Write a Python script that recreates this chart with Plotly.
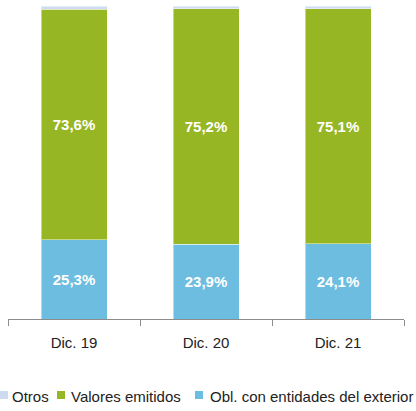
import plotly.graph_objects as go

categories = ["Dic. 19", "Dic. 20", "Dic. 21"]
obl_exterior = [25.3, 23.9, 24.1]
valores_emitidos = [73.6, 75.2, 75.1]
otros = [1.1, 0.9, 0.8]

series_names = ["Obl. con entidades del exterior", "Valores emitidos", "Otros"]
colors = ["#6CBDE0", "#97B624", "#CCDBEF"]

FONT = "Liberation Sans, Arial"

def fmt(v):
    return f"{v:.1f}%".replace(".", ",")

fig = go.Figure()
for name, vals, col, show in zip(series_names, [obl_exterior, valores_emitidos, otros], colors, [True, True, False]):
    fig.add_trace(go.Bar(
        x=categories, y=vals, name=name,
        marker=dict(color=col, line=dict(color="rgba(255,255,255,0.45)", width=1)),
        text=[fmt(v) for v in vals] if show else None,
        textposition="inside" if show else "none",
        insidetextanchor="middle",
        textfont=dict(family=FONT, size=15, color="white", weight="bold"),
        textangle=0,
        width=0.5,
        showlegend=False,
        hoverinfo="skip",
    ))

# manual legend (pixel positions converted to paper coords)
W, H, ML, MR, MT, MB = 416, 411, 8, 12, 6, 92
pw, ph = W - ML - MR, H - MT - MB
def px(p):
    return (p - ML) / pw
def py(p):
    return (H - MB - p) / ph

legend_items = list(zip(series_names, colors))[::-1]
sq_x = [0, 57, 195]
txt_x = [10, 69, 208]
for (name, col), sx, tx in zip(legend_items, sq_x, txt_x):
    fig.add_shape(type="rect", xref="paper", yref="paper",
                  x0=px(sx), x1=px(sx + 8), y0=py(399), y1=py(391),
                  fillcolor=col, line=dict(width=0))
    fig.add_annotation(text=name, xref="paper", yref="paper",
                       x=px(tx), y=py(396), xanchor="left", yanchor="middle",
                       showarrow=False,
                       font=dict(family=FONT, size=15, color="#222222"))

fig.update_layout(
    barmode="stack",
    width=W, height=H,
    margin=dict(l=ML, r=MR, t=MT, b=MB),
    plot_bgcolor="white", paper_bgcolor="white",
    bargap=0.5,
    xaxis=dict(
        showline=True, linecolor="#8C8C8C", linewidth=1,
        ticks="outside", tickson="boundaries", ticklen=6, tickcolor="#8C8C8C",
        ticklabelstandoff=10,
        tickfont=dict(family=FONT, size=15, color="#222222"),
        showgrid=False,
    ),
    yaxis=dict(range=[0, 100], visible=False),
)

fig.write_html("out.html", config={"displayModeBar": False},
               post_script="document.body.style.margin='0';")
